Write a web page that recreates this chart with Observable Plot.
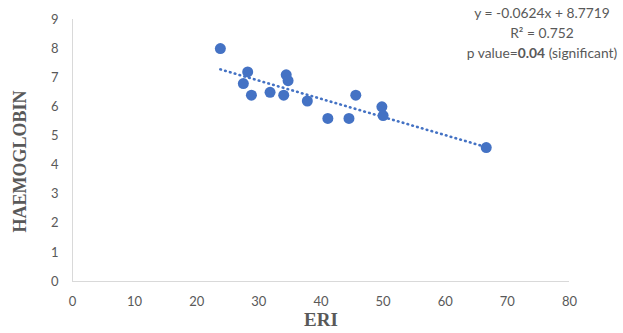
<!DOCTYPE html>
<html>
<head>
<meta charset="utf-8">
<script src="https://cdn.jsdelivr.net/npm/d3@7"></script>
<script src="https://cdn.jsdelivr.net/npm/@observablehq/plot@0.6"></script>
<style>
  html, body { margin: 0; padding: 0; background: #fff; }
  #wrap { position: relative; width: 623px; height: 333px; overflow: hidden; }
  #eq { position: absolute; left: 457px; top: 3px; width: 170px; text-align: center;
        font-family: Lato, "Open Sans", sans-serif; font-size: 13.8px; color: #595959; line-height: 20px; }
</style>
</head>
<body>
<div id="wrap">
  <div id="chart"></div>
  <div id="eq">
    <div>y = -0.0624x + 8.7719</div>
    <div>R² = 0.752</div>
    <div>p value=<b>0.04</b> (significant)</div>
  </div>
</div>
<script>
const eri = [23.8, 28.2, 27.5, 28.8, 31.8, 34.0, 34.4, 34.7, 37.8, 41.1, 44.5, 45.6, 49.8, 50.0, 66.6];
const haemoglobin = [8.0, 7.2, 6.8, 6.4, 6.5, 6.4, 7.1, 6.9, 6.2, 5.6, 5.6, 6.4, 6.0, 5.7, 4.6];
const xTicks = [0, 10, 20, 30, 40, 50, 60, 70, 80];
const yTicks = [0, 1, 2, 3, 4, 5, 6, 7, 8, 9];
const slope = -0.0624;
const intercept = 8.7719;

const points = eri.map((x, i) => ({x, y: haemoglobin[i]}));
const xMin = d3.min(eri), xMax = d3.max(eri);
const trend = [xMin, xMax].map(x => ({x, y: slope * x + intercept}));

const chart = Plot.plot({
  width: 623,
  height: 333,
  marginLeft: 72,
  marginRight: 54,
  marginTop: 19,
  marginBottom: 52,
  style: {fontFamily: "Lato, 'Open Sans', sans-serif", fontSize: "13px", color: "#595959", background: "#fff"},
  x: {domain: [0, 80], ticks: xTicks, tickSize: 0, tickPadding: 15, label: null},
  y: {domain: [0, 9], ticks: yTicks, tickSize: 0, tickPadding: 14, label: null},
  marks: [
    Plot.ruleX([0], {stroke: "#d9d9d9", strokeWidth: 1}),
    Plot.ruleY([0], {stroke: "#d9d9d9", strokeWidth: 1}),
    Plot.line(trend, {x: "x", y: "y", stroke: "#4472C4", strokeWidth: 2.6, strokeDasharray: "0.6 4.4", strokeLinecap: "round"}),
    Plot.dot(points, {x: "x", y: "y", r: 5.5, fill: "#4472C4", stroke: "none"}),
    Plot.text(["ERI"], {frameAnchor: "bottom", dy: 44, text: d => d, fontFamily: "'Liberation Serif', serif", fontWeight: "bold", fontSize: 19, fill: "#595959"}),
    Plot.text(["HAEMOGLOBIN"], {frameAnchor: "left", dx: -52, dy: 11, rotate: -90, textAnchor: "middle", text: d => d, fontFamily: "'Liberation Serif', serif", fontWeight: "bold", fontSize: 18, fill: "#595959"})
  ]
});
document.getElementById("chart").appendChild(chart);
</script>
</body>
</html>
